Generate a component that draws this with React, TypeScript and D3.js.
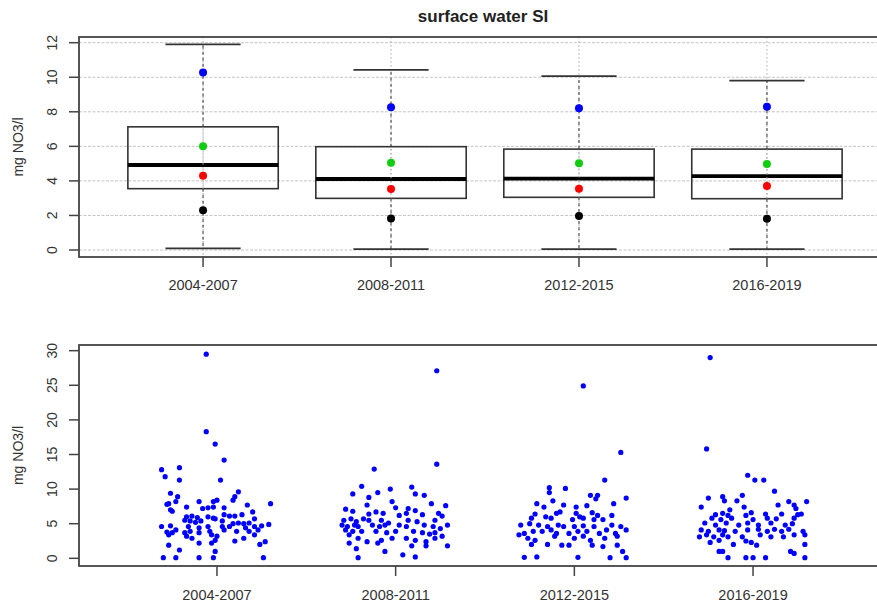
import React from "react";
import * as d3 from "d3";

const CATEGORIES = ["2004-2007", "2008-2011", "2012-2015", "2016-2019"];
const BOX_Q1 = [3.55, 2.99, 3.05, 2.97];
const BOX_MEDIAN = [4.92, 4.11, 4.13, 4.28];
const BOX_Q3 = [7.13, 5.98, 5.84, 5.84];
const WHISKER_LOW = [0.1, 0.05, 0.05, 0.05];
const WHISKER_HIGH = [11.9, 10.43, 10.07, 9.8];
const MARK_BLUE = [10.28, 8.26, 8.2, 8.29];
const MARK_GREEN = [6.0, 5.05, 5.02, 4.98];
const MARK_RED = [4.3, 3.53, 3.55, 3.7];
const MARK_BLACK = [2.3, 1.83, 1.97, 1.81];
const TOP_Y_TICKS = [0, 2, 4, 6, 8, 10, 12];
const BOTTOM_Y_TICKS = [0, 5, 10, 15, 20, 25, 30];
const TITLE = "surface water SI";
const Y_LABEL = "mg NO3/l";

// [jitter (category units), value]
const GROUP_2004: [number, number][] = [
  [-0.06, 29.5], [-0.06, 18.3], [-0.01, 16.5], [0.04, 14.2], [-0.31, 12.8], [-0.21, 13.1], [-0.29, 11.8], [-0.21, 11.3], [0.02, 11.3],
  [-0.26, 9.4], [-0.22, 8.9], [0.12, 9.6], [0.1, 8.9], [0.09, 8.4], [-0.27, 7.9], [-0.28, 7.8], [-0.23, 8.2], [-0.1, 8.2], [-0.02, 8.2],
  [0.0, 8.4], [0.17, 7.7], [0.3, 7.9], [-0.17, 7.4], [-0.08, 7.2], [-0.05, 7.3], [-0.02, 7.4], [0.04, 7.3], [-0.26, 7.0], [-0.25, 6.8],
  [0.2, 6.7], [0.04, 6.3], [0.07, 6.1], [0.1, 6.1], [0.14, 6.3], [-0.17, 6.0], [-0.14, 6.1], [-0.11, 5.9], [-0.05, 6.0], [-0.02, 5.8],
  [-0.01, 5.7], [0.21, 5.7], [-0.18, 5.5], [-0.15, 5.4], [-0.12, 5.2], [-0.09, 5.4], [0.03, 5.4], [0.09, 5.0], [0.12, 5.1], [0.15, 5.0],
  [0.18, 5.1], [-0.31, 4.6], [-0.26, 4.7], [-0.16, 4.6], [-0.1, 4.4], [-0.05, 4.6], [0.03, 4.6], [0.07, 4.6], [0.16, 4.4], [0.21, 4.6],
  [0.25, 4.7], [0.29, 4.9], [-0.28, 3.8], [-0.25, 3.7], [-0.23, 4.1], [-0.18, 3.7], [-0.15, 3.9], [-0.1, 3.7], [-0.04, 3.9], [0.04, 4.1],
  [0.11, 3.9], [0.18, 3.9], [0.23, 4.1], [-0.27, 3.4], [-0.17, 3.2], [-0.03, 3.4], [0.0, 3.2], [0.21, 3.4], [-0.14, 2.9], [-0.01, 2.6],
  [0.1, 2.5], [0.15, 2.9], [-0.1, 2.2], [-0.03, 2.2], [0.27, 2.4], [-0.27, 1.9], [-0.21, 1.2], [0.24, 2.0], [-0.01, 1.0], [-0.3, 0.1],
  [-0.23, 0.1], [-0.1, 0.1], [-0.02, 0.1], [0.26, 0.1],
];
const GROUP_2008: [number, number][] = [
  [0.23, 27.1], [0.23, 13.6], [-0.12, 12.9], [-0.19, 10.4], [-0.03, 10.0], [0.09, 10.3], [-0.24, 9.3], [-0.15, 8.8], [-0.1, 9.5],
  [0.11, 9.3], [0.16, 9.1], [-0.02, 8.2], [-0.16, 7.7], [0.2, 7.9], [0.28, 7.6], [-0.28, 7.1], [-0.24, 6.8], [-0.15, 6.4], [-0.11, 6.7],
  [-0.07, 6.5], [0.0, 7.3], [0.07, 7.2], [0.11, 6.9], [0.02, 6.2], [0.06, 6.5], [0.15, 6.3], [0.24, 6.5], [0.26, 6.1], [-0.29, 5.5],
  [-0.25, 5.7], [-0.22, 5.3], [-0.18, 5.7], [-0.15, 5.5], [-0.08, 5.5], [-0.04, 5.1], [0.07, 5.5], [0.12, 5.3], [0.22, 5.5], [-0.3, 4.8],
  [-0.27, 4.6], [-0.23, 4.8], [-0.21, 4.6], [-0.13, 4.8], [-0.09, 4.6], [-0.06, 4.8], [0.02, 4.8], [0.06, 4.6], [0.16, 4.8], [0.21, 4.6],
  [0.25, 4.3], [0.29, 4.8], [-0.28, 4.1], [-0.24, 3.9], [-0.19, 3.9], [-0.11, 3.9], [-0.05, 3.7], [0.0, 3.9], [0.1, 3.9], [0.15, 3.7],
  [0.19, 3.5], [0.22, 3.7], [0.26, 3.2], [-0.26, 3.4], [-0.21, 2.9], [-0.16, 2.4], [-0.1, 2.2], [-0.08, 2.6], [-0.02, 2.9], [0.06, 2.9],
  [0.11, 2.6], [0.17, 2.4], [0.22, 2.9], [-0.26, 2.2], [-0.22, 1.4], [0.09, 1.8], [0.17, 1.8], [0.29, 1.8], [-0.06, 1.0], [0.04, 0.5],
  [0.11, 0.2], [-0.21, 0.1],
];
const GROUP_2012: [number, number][] = [
  [0.05, 24.9], [0.26, 15.3], [0.17, 11.3], [-0.14, 10.2], [-0.14, 9.5], [-0.05, 10.1], [0.09, 9.1], [0.13, 9.1], [0.12, 8.6],
  [0.29, 8.7], [-0.21, 7.9], [-0.12, 8.3], [-0.06, 7.7], [0.22, 7.9], [-0.17, 7.4], [0.01, 7.4], [0.07, 7.6], [-0.22, 6.4], [-0.16, 6.0],
  [-0.1, 6.5], [-0.08, 6.7], [0.01, 6.5], [0.03, 6.0], [0.1, 6.6], [0.13, 6.2], [0.21, 6.2], [-0.24, 5.8], [-0.13, 5.8], [-0.01, 5.6],
  [0.05, 5.8], [0.11, 5.6], [0.16, 5.6], [-0.3, 4.8], [-0.25, 5.0], [-0.2, 4.8], [-0.15, 4.6], [-0.09, 4.8], [-0.06, 4.6], [0.0, 4.6],
  [0.05, 4.7], [0.11, 4.6], [0.21, 4.8], [0.26, 4.6], [-0.31, 3.4], [-0.28, 3.6], [-0.23, 3.9], [-0.18, 3.9], [-0.13, 4.1], [-0.1, 3.6],
  [-0.03, 3.6], [0.02, 3.9], [0.07, 3.9], [0.14, 3.6], [0.18, 4.1], [0.23, 3.6], [0.29, 4.1], [-0.26, 2.9], [-0.22, 2.6], [-0.11, 3.2],
  [0.0, 2.9], [0.05, 3.2], [0.09, 2.6], [0.17, 2.9], [0.24, 3.2], [-0.24, 2.0], [-0.15, 2.0], [-0.07, 1.9], [-0.03, 1.9], [0.1, 1.9],
  [0.16, 1.7], [0.24, 1.9], [0.27, 1.0], [-0.28, 0.15], [-0.21, 0.2], [0.02, 0.15], [0.2, 0.1], [0.29, 0.1],
];
const GROUP_2016: [number, number][] = [
  [-0.24, 29.0], [-0.26, 15.8], [-0.03, 12.0], [0.01, 11.3], [0.06, 11.3], [0.12, 9.7], [-0.25, 8.7], [-0.17, 8.9], [-0.16, 8.3],
  [-0.09, 8.3], [-0.06, 9.1], [0.2, 8.2], [0.3, 8.2], [-0.29, 7.4], [-0.05, 7.4], [0.14, 7.7], [0.23, 7.7], [0.24, 7.2], [-0.13, 7.0],
  [-0.01, 6.6], [-0.21, 6.3], [-0.17, 6.5], [-0.14, 6.2], [-0.04, 6.2], [0.07, 6.4], [0.16, 6.4], [0.25, 6.3], [0.27, 6.4], [-0.23, 5.8],
  [-0.18, 5.6], [-0.12, 5.8], [0.0, 5.6], [0.08, 5.8], [0.13, 5.7], [0.23, 5.8], [-0.27, 5.1], [-0.21, 4.8], [-0.15, 5.1], [-0.08, 4.8],
  [-0.03, 5.1], [0.03, 4.8], [0.1, 5.1], [0.18, 4.8], [0.22, 5.0], [-0.29, 4.1], [-0.25, 3.9], [-0.19, 4.1], [-0.16, 4.0], [-0.1, 3.9],
  [-0.03, 4.1], [0.03, 4.2], [0.08, 3.9], [0.12, 4.2], [0.16, 3.9], [0.2, 4.2], [0.28, 3.9], [-0.3, 3.1], [-0.26, 3.4], [-0.22, 3.1],
  [-0.17, 3.4], [-0.14, 3.1], [-0.06, 3.1], [0.04, 3.4], [0.1, 3.1], [0.17, 3.1], [0.23, 3.4], [0.29, 3.4], [-0.24, 2.3], [-0.19, 2.6],
  [-0.04, 2.5], [-0.01, 2.3], [0.02, 1.9], [-0.11, 2.0], [0.29, 2.0], [-0.19, 1.0], [-0.17, 1.0], [0.21, 1.0], [0.23, 0.7], [-0.14, 0.1],
  [-0.04, 0.1], [0.0, 0.1], [0.07, 0.1], [0.29, 0.1],
];
const SCATTER_GROUPS = [GROUP_2004, GROUP_2008, GROUP_2012, GROUP_2016];

const W = 877;
const H = 602;
const FONT = "'Liberation Sans', Arial, sans-serif";
const TXT = "#333";
const AXIS = "#444";

export default function App() {
  const left = 79;
  const right = 891;
  // top panel
  const tTop = 37, tBot = 257;
  const tx = d3.scaleLinear().domain([0.34, 4.66]).range([left, right]);
  const ty = d3.scaleLinear().domain([-0.405, 12.33]).range([tBot, tTop]);
  // bottom panel
  const bTop = 345, bBot = 566;
  const bx = d3.scaleLinear().domain([0.228, 4.772]).range([left, right]);
  const by = d3.scaleLinear().domain([-1.11, 30.82]).range([bBot, bTop]);

  const boxHalf = 0.4;
  const capHalf = 0.2;
  const markSets: [number[], string][] = [
    [MARK_BLUE, "#0000ff"],
    [MARK_GREEN, "#11cc11"],
    [MARK_RED, "#ff0000"],
    [MARK_BLACK, "#000000"],
  ];

  return (
    <svg width={W} height={H} style={{ position: "absolute", left: 0, top: 0, background: "#fff" }} fontFamily={FONT}>
      <rect x={0} y={0} width={W} height={H} fill="#fff" />
      <text x={483} y={22} textAnchor="middle" fontWeight="bold" fontSize={17} fill="#222">{TITLE}</text>

      {/* ---- top panel ---- */}
      {TOP_Y_TICKS.map((t) => (
        <line key={"hg" + t} x1={left} x2={right} y1={ty(t)} y2={ty(t)} stroke="#c4c4c4" strokeWidth={1} strokeDasharray="3,1.5" />
      ))}
      {CATEGORIES.map((c, i) => (
        <line key={"vg" + c} x1={tx(i + 1)} x2={tx(i + 1)} y1={tTop} y2={tBot} stroke="#aaa" strokeWidth={1} strokeDasharray="1.5,2.5" />
      ))}
      {CATEGORIES.map((c, i) => {
        const cx = tx(i + 1);
        const x0 = tx(i + 1 - boxHalf), x1 = tx(i + 1 + boxHalf);
        const c0 = tx(i + 1 - capHalf), c1 = tx(i + 1 + capHalf);
        return (
          <g key={"box" + c}>
            <line x1={cx} x2={cx} y1={ty(BOX_Q3[i])} y2={ty(WHISKER_HIGH[i])} stroke="#555" strokeWidth={1.2} strokeDasharray="3,3" />
            <line x1={cx} x2={cx} y1={ty(BOX_Q1[i])} y2={ty(WHISKER_LOW[i])} stroke="#555" strokeWidth={1.2} strokeDasharray="3,3" />
            <line x1={c0} x2={c1} y1={ty(WHISKER_HIGH[i])} y2={ty(WHISKER_HIGH[i])} stroke="#333" strokeWidth={1.8} />
            <line x1={c0} x2={c1} y1={ty(WHISKER_LOW[i])} y2={ty(WHISKER_LOW[i])} stroke="#333" strokeWidth={1.8} />
            <rect x={x0} y={ty(BOX_Q3[i])} width={x1 - x0} height={ty(BOX_Q1[i]) - ty(BOX_Q3[i])} fill="none" stroke="#333" strokeWidth={1.6} />
            <line x1={x0} x2={x1} y1={ty(BOX_MEDIAN[i])} y2={ty(BOX_MEDIAN[i])} stroke="#000" strokeWidth={3.8} />
          </g>
        );
      })}
      {CATEGORIES.map((c, i) => (
        <line key={"vg2" + c} x1={tx(i + 1)} x2={tx(i + 1)} y1={ty(BOX_Q1[i])} y2={ty(BOX_Q3[i])} stroke="#aaa" strokeWidth={1} strokeDasharray="1.5,2.5" />
      ))}
      {markSets.map(([vals, col], k) =>
        vals.map((v, i) => <circle key={"m" + k + "-" + i} cx={tx(i + 1)} cy={ty(v)} r={4} fill={col} />)
      )}
      <rect x={left} y={tTop} width={right - left} height={tBot - tTop} fill="none" stroke={AXIS} strokeWidth={1.8} />
      {TOP_Y_TICKS.map((t) => (
        <g key={"yt" + t}>
          <line x1={left - 10} x2={left} y1={ty(t)} y2={ty(t)} stroke={AXIS} strokeWidth={1.5} />
          <text transform={`translate(52,${ty(t)}) rotate(-90)`} textAnchor="middle" dominantBaseline="central" fontSize={14} fill={TXT}>{t}</text>
        </g>
      ))}
      <text transform={`translate(18,${(tTop + tBot) / 2}) rotate(-90)`} textAnchor="middle" dominantBaseline="central" fontSize={14} fill={TXT}>{Y_LABEL}</text>
      {CATEGORIES.map((c, i) => (
        <g key={"xt" + c}>
          <line x1={tx(i + 1)} x2={tx(i + 1)} y1={tBot} y2={tBot + 10} stroke={AXIS} strokeWidth={1.5} />
          <text x={tx(i + 1)} y={290} textAnchor="middle" fontSize={14.5} fill={TXT}>{c}</text>
        </g>
      ))}

      {/* ---- bottom panel ---- */}
      {SCATTER_GROUPS.map((g, i) =>
        g.map(([j, v], k) => <circle key={"p" + i + "-" + k} cx={bx(i + 1 + j)} cy={by(v)} r={2.6} fill="#0000ff" />)
      )}
      <rect x={left} y={bTop} width={right - left} height={bBot - bTop} fill="none" stroke={AXIS} strokeWidth={1.8} />
      {BOTTOM_Y_TICKS.map((t) => (
        <g key={"byt" + t}>
          <line x1={left - 10} x2={left} y1={by(t)} y2={by(t)} stroke={AXIS} strokeWidth={1.5} />
          <text transform={`translate(52,${by(t)}) rotate(-90)`} textAnchor="middle" dominantBaseline="central" fontSize={14} fill={TXT}>{t}</text>
        </g>
      ))}
      <text transform={`translate(18,${(bTop + bBot) / 2}) rotate(-90)`} textAnchor="middle" dominantBaseline="central" fontSize={14} fill={TXT}>{Y_LABEL}</text>
      {CATEGORIES.map((c, i) => (
        <g key={"bxt" + c}>
          <line x1={bx(i + 1)} x2={bx(i + 1)} y1={bBot} y2={bBot + 10} stroke={AXIS} strokeWidth={1.5} />
          <text x={bx(i + 1)} y={600} textAnchor="middle" fontSize={14.5} fill={TXT}>{c}</text>
        </g>
      ))}
    </svg>
  );
}
